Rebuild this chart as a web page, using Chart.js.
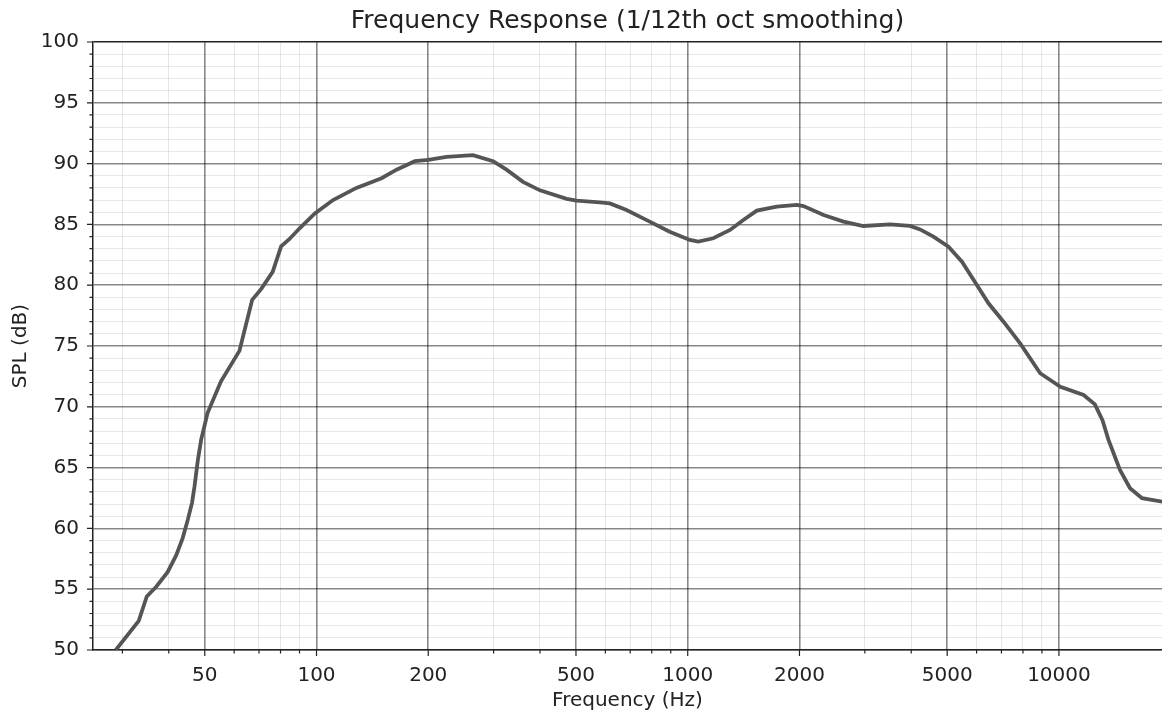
<!DOCTYPE html>
<html>
<head>
<meta charset="utf-8">
<script src="https://cdn.jsdelivr.net/npm/chart.js@4/dist/chart.umd.min.js"></script>
<style>
  body { margin: 0; background: #fff; }
  #wrap { width: 1162px; height: 713px; }
</style>
</head>
<body>
<div id="wrap"><canvas id="fr"></canvas></div>
<script>
const freqHz = [28.8, 33.2, 34.9, 37.0, 39.7, 41.9, 43.6, 45.0, 46.2, 46.9, 47.9, 48.9, 50.9, 55.3, 62.0,
  67.1, 71.0, 76.2, 80.3, 84.6, 90.2, 99.0, 110.8, 128.1, 149.7, 164.3, 184.1, 200, 224, 264,
  299, 325, 360, 400, 472, 502, 580, 617, 684, 790, 894, 1013, 1068, 1172, 1300, 1412, 1535,
  1738, 1968, 2050, 2323, 2628, 2973, 3507, 3970, 4226, 4590, 5040, 5480, 6010, 6460, 7090,
  7860, 8900, 10090, 11650, 12500, 13100, 13590, 14600, 15540, 16740, 19000];
const splDb = [50.0, 52.4, 54.4, 55.2, 56.4, 57.8, 59.2, 60.7, 62.1, 63.4, 65.6, 67.3, 69.5, 72.1, 74.6,
  78.8, 79.7, 81.1, 83.2, 83.8, 84.7, 85.9, 87.0, 88.0, 88.8, 89.5, 90.2, 90.3, 90.55, 90.7,
  90.2, 89.5, 88.5, 87.8, 87.1, 86.95, 86.82, 86.73, 86.18, 85.23, 84.4, 83.72, 83.58, 83.86, 84.54, 85.36, 86.13,
  86.46, 86.6, 86.51, 85.77, 85.23, 84.87, 85.0, 84.87, 84.59, 83.99, 83.17, 81.93, 80.02, 78.51, 77.0,
  75.22, 72.76, 71.65, 70.97, 70.2, 68.9, 67.3, 64.8, 63.3, 62.48, 62.2];

// x ticks: labelled decades + unlabelled minor ones
const labeledFreqs = [50, 100, 200, 500, 1000, 2000, 5000, 10000];
const minorFreqs = [30, 40, 60, 70, 80, 90, 300, 400, 600, 700, 800, 900,
  3000, 4000, 6000, 7000, 8000, 9000];

const FONT = "'DejaVu Sans', sans-serif";
const INK = "#222";
const GRID_MAJOR = "rgba(0,0,0,0.47)";
const GRID_MINOR = "rgba(0,0,0,0.09)";

// short tick marks (major longer than minor), placed from the scales
const tickMarks = {
  id: "tickMarks",
  afterDraw(chart) {
    const ctx = chart.ctx;
    const xs = chart.scales.x, ys = chart.scales.y;
    ctx.save();
    ctx.strokeStyle = INK;
    ctx.lineWidth = 1.2;
    ctx.beginPath();
    xs.ticks.forEach(t => {
      const px = xs.getPixelForValue(t.value);
      const len = labeledFreqs.includes(t.value) ? 6 : 3.5;
      ctx.moveTo(px, xs.top);
      ctx.lineTo(px, xs.top + len);
    });
    ys.ticks.forEach(t => {
      const py = ys.getPixelForValue(t.value);
      const len = t.value % 5 === 0 ? 6 : 3.5;
      ctx.moveTo(ys.right, py);
      ctx.lineTo(ys.right - len, py);
    });
    ctx.stroke();
    ctx.restore();
  }
};

new Chart(document.getElementById("fr"), {
  type: "line",
  data: {
    datasets: [{
      data: freqHz.map((f, i) => ({ x: f, y: splDb[i] })),
      borderColor: "#555555",
      borderWidth: 3.8,
      pointRadius: 0,
      tension: 0,
      fill: false
    }]
  },
  options: {
    responsive: true,
    maintainAspectRatio: false,
    animation: false,
    layout: { padding: 0 },
    plugins: {
      legend: { display: false },
      tooltip: { enabled: false },
      title: {
        display: true,
        text: "Frequency Response (1/12th oct smoothing)",
        color: INK,
        fullSize: false,
        font: { family: FONT, size: 25, weight: "normal" },
        padding: { top: 6, bottom: 6 }
      }
    },
    scales: {
      x: {
        type: "logarithmic",
        min: 25,
        max: 18950,
        afterBuildTicks: scale => {
          scale.ticks = labeledFreqs.concat(minorFreqs).sort((a, b) => a - b).map(v => ({ value: v }));
        },
        afterFit: scale => { scale.height = 63; },
        ticks: {
          autoSkip: false,
          maxRotation: 0,
          padding: 14,
          color: INK,
          font: { family: FONT, size: 20 },
          callback: v => labeledFreqs.includes(v) ? String(v) : ""
        },
        grid: {
          drawTicks: false,
          color: c => labeledFreqs.includes(c.tick.value) ? GRID_MAJOR : GRID_MINOR,
          lineWidth: c => labeledFreqs.includes(c.tick.value) ? 1.6 : 1
        },
        border: { display: true, color: INK, width: 1.5 },
        title: {
          display: true,
          text: "Frequency (Hz)",
          color: INK,
          font: { family: FONT, size: 20 },
          padding: { top: 0, bottom: 0 }
        }
      },
      y: {
        min: 50,
        max: 100,
        afterFit: scale => { scale.width = 93; },
        ticks: {
          stepSize: 1,
          autoSkip: false,
          padding: 14,
          color: INK,
          font: { family: FONT, size: 20 },
          callback: v => v % 5 === 0 ? String(v) : ""
        },
        grid: {
          drawTicks: false,
          color: c => c.tick.value === 100 ? INK : (c.tick.value % 5 === 0 ? GRID_MAJOR : GRID_MINOR),
          lineWidth: c => c.tick.value === 100 ? 1.5 : (c.tick.value % 5 === 0 ? 1.6 : 1)
        },
        border: { display: true, color: INK, width: 1.5 },
        title: {
          display: true,
          text: "SPL (dB)",
          color: INK,
          font: { family: FONT, size: 20 },
          padding: { top: 9, bottom: 0 }
        }
      }
    }
  },
  plugins: [tickMarks]
});
</script>
</body>
</html>
